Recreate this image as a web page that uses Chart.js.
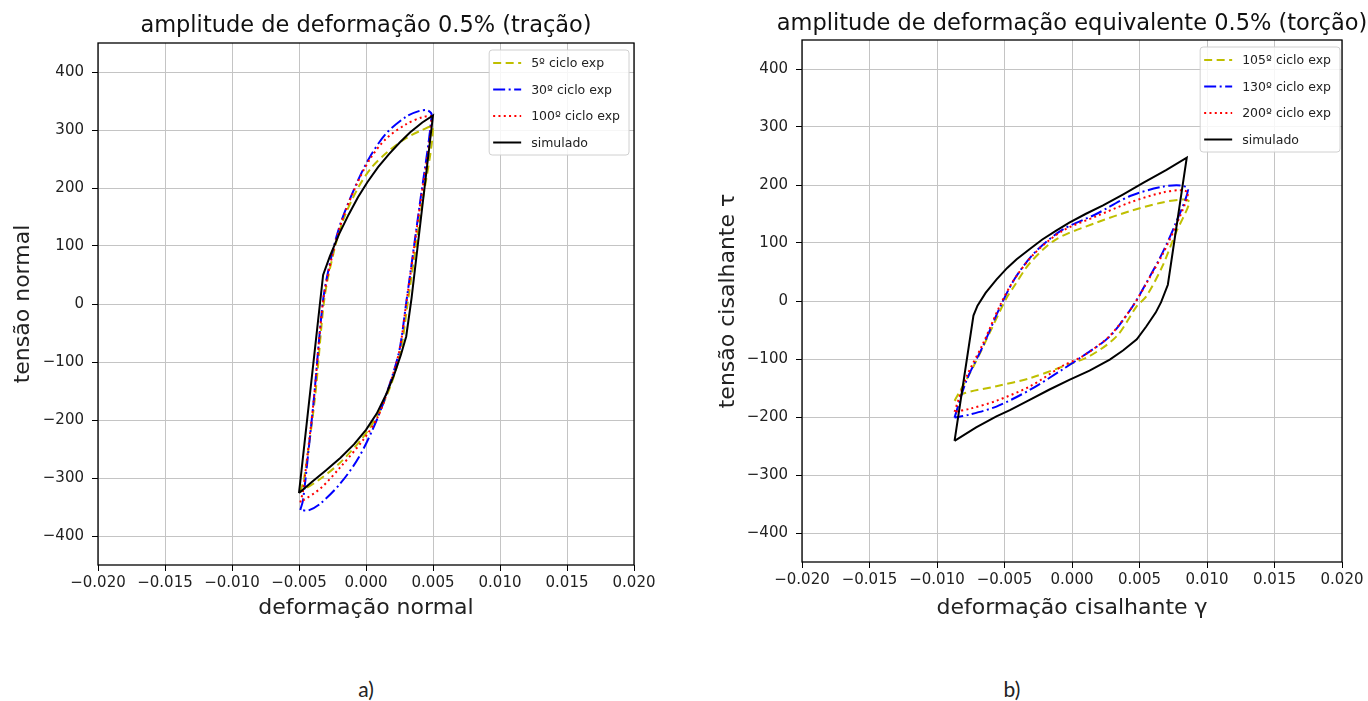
<!DOCTYPE html>
<html>
<head>
<meta charset="utf-8">
<script src="https://cdn.jsdelivr.net/npm/chart.js@4/dist/chart.umd.min.js"></script>
<style>
  body { margin: 0; background: #fff; width: 1368px; height: 701px; position: relative; overflow: hidden; }
  .painel { position: absolute; top: 0; width: 684px; height: 640px; }
  .rotulo { position: absolute; top: 676px; font: 21px Lato, "Open Sans", sans-serif; color: #222; transform: translateX(-50%); }
</style>
</head>
<body>
<div class="painel" style="left:0"><canvas id="grafTracao"></canvas></div>
<div class="painel" style="left:684px"><canvas id="grafTorcao"></canvas></div>
<div class="rotulo" style="left:366px">a)</div>
<div class="rotulo" style="left:1012px">b)</div>
<script>
// ticks dos eixos
const ticksX = [-0.020, -0.015, -0.010, -0.005, 0.000, 0.005, 0.010, 0.015, 0.020];
const ticksY = [-400, -300, -200, -100, 0, 100, 200, 300, 400];

// a) tracao - laços (ramo de carga + ramo de descarga)
const tracao5X = [-0.0049, -0.0046, -0.0038, -0.0031, -0.0024, -0.0017, -0.0006, 0.0004, 0.0016, 0.0030, 0.0042, 0.0050,
  0.0041, 0.0031, 0.0026, 0.0019, 0.0009, -0.0003, -0.0020, -0.0035, -0.0049];
const tracao5Y = [-324, -298, -160, 10, 90, 145, 200, 235, 262, 286, 300, 305,
  160, 0, -80, -137, -190, -232, -275, -303, -324];

const tracao30X = [-0.0049, -0.0047, -0.0043, -0.0039, -0.0032, -0.0026, -0.0019, -0.0007, 0.0003, 0.0015, 0.0030, 0.0040, 0.0046, 0.0049,
  0.0040, 0.0030, 0.0025, 0.0018, 0.0008, -0.0005, -0.0019, -0.0034, -0.0043, -0.0049];
const tracao30Y = [-355, -338, -255, -166, 7, 80, 139, 208, 254, 294, 323, 333, 334, 326,
  170, 2, -79, -136, -200, -263, -309, -344, -356, -355];

const tracao100X = [-0.0049, -0.0047, -0.0039, -0.0032, -0.0025, -0.0018, -0.0007, 0.0003, 0.0015, 0.0030, 0.0042, 0.0049,
  0.0040, 0.0030, 0.0025, 0.0018, 0.0009, -0.0002, -0.0019, -0.0034, -0.0049];
const tracao100Y = [-342, -322, -166, 5, 85, 143, 206, 250, 285, 310, 322, 322,
  165, 0, -80, -137, -194, -234, -281, -318, -342];

const tracaoSimX = [-0.0050, -0.0032, -0.0027, -0.0020, -0.0013, -0.0006, 0.0001, 0.0009, 0.0017, 0.0025, 0.0033, 0.0042, 0.0050,
  0.0034, 0.0030, 0.0026, 0.0021, 0.0015, 0.0008, 0.0000, -0.0009, -0.0019, -0.0030, -0.0040, -0.0050];
const tracaoSimY = [-326, 50, 82, 121, 154, 184, 210, 236, 258, 278, 296, 313, 325,
  10, -56, -88, -122, -156, -189, -217, -242, -265, -287, -306, -326];

// b) torcao
const torcao105X = [-0.0087, -0.0073, -0.0061, -0.0049, -0.0043, -0.0031, -0.0012, 0.0018, 0.0043, 0.0067, 0.0083, 0.0087,
  0.0077, 0.0067, 0.0055, 0.0048, 0.0033, 0.0013, -0.0007, -0.0031, -0.0056, -0.0081, -0.0087];
const torcao105Y = [-172, -113, -55, 3, 25, 66, 106, 135, 155, 170, 175, 170,
  118, 60, 8, -9, -61, -95, -113, -133, -147, -160, -172];

const torcao130X = [-0.0087, -0.0078, -0.0066, -0.0053, -0.0042, -0.0027, -0.0007, 0.0018, 0.0043, 0.0067, 0.0081, 0.0086,
  0.0077, 0.0067, 0.0055, 0.0045, 0.0028, 0.0008, -0.0007, -0.0031, -0.0056, -0.0076, -0.0087];
const torcao130Y = [-201, -136, -78, -9, 40, 85, 123, 150, 181, 197, 199, 192,
  135, 83, 31, -9, -61, -95, -118, -153, -182, -196, -201];

const torcao200X = [-0.0087, -0.0078, -0.0066, -0.0053, -0.0042, -0.0027, -0.0007, 0.0018, 0.0043, 0.0067, 0.0081, 0.0086,
  0.0077, 0.0067, 0.0055, 0.0045, 0.0028, 0.0008, -0.0007, -0.0031, -0.0056, -0.0076, -0.0087];
const torcao200Y = [-191, -130, -74, -6, 40, 84, 121, 146, 170, 187, 191, 186,
  130, 80, 30, -9, -60, -95, -112, -147, -172, -186, -191];

const torcaoSimX = [-0.0087, -0.0073, -0.0070, -0.0064, -0.0056, -0.0048, -0.0041, -0.0031, -0.0022, -0.0012, -0.0002, 0.0010, 0.0023, 0.0038, 0.0053, 0.0070, 0.0085,
  0.0071, 0.0066, 0.0062, 0.0055, 0.0048, 0.0038, 0.0028, 0.0013, -0.0002, -0.0017, -0.0031, -0.0046, -0.0056, -0.0071, -0.0087];
const torcaoSimY = [-241, -25, -8, 14, 37, 57, 72, 90, 106, 121, 135, 150, 165, 184, 204, 226, 247,
  28, -2, -20, -44, -66, -85, -101, -120, -136, -153, -170, -188, -199, -218, -241];

const legendaTracao = ['5º ciclo exp', '30º ciclo exp', '100º ciclo exp', 'simulado'];
const legendaTorcao = ['105º ciclo exp', '130º ciclo exp', '200º ciclo exp', 'simulado'];

const FONTE = '"DejaVu Sans", sans-serif';

function pontos(xs, ys) {
  return xs.map((x, i) => ({ x: x, y: ys[i] }));
}

function sinal(v, casas) {
  const txt = Math.abs(v).toFixed(casas);
  return v < 0 ? '\u2212' + txt : txt;
}

// moldura, titulo centrado e legenda dentro do grafico
const extras = {
  id: 'extras',
  afterDraw(chart, args, opts) {
    const { ctx, chartArea: a } = chart;
    ctx.save();
    ctx.strokeStyle = '#000';
    ctx.lineWidth = 1.3;
    ctx.strokeRect(a.left, a.top, a.right - a.left, a.bottom - a.top);

    ctx.fillStyle = '#111';
    ctx.font = '22.5px ' + FONTE;
    ctx.textAlign = 'center';
    ctx.textBaseline = 'alphabetic';
    ctx.fillText(opts.titulo, (a.left + a.right) / 2, opts.tituloY);

    ctx.font = '12.5px ' + FONTE;
    const dss = chart.data.datasets;
    const larg = Math.max(...dss.map(d => ctx.measureText(d.label).width)) + 51;
    const alt = 105;
    const x0 = a.right - opts.legDireita - larg;
    const y0 = a.top + opts.legTopo;
    ctx.beginPath();
    ctx.roundRect(x0, y0, larg, alt, 3);
    ctx.fillStyle = 'rgba(255,255,255,0.85)';
    ctx.fill();
    ctx.strokeStyle = '#d0d0d0';
    ctx.lineWidth = 1;
    ctx.stroke();

    ctx.textAlign = 'left';
    ctx.textBaseline = 'middle';
    dss.forEach((d, i) => {
      const y = y0 + 13 + i * 26.5;
      ctx.beginPath();
      ctx.setLineDash(d.borderDash || []);
      ctx.strokeStyle = d.borderColor;
      ctx.lineWidth = d.borderWidth;
      ctx.moveTo(x0 + 4, y);
      ctx.lineTo(x0 + 32, y);
      ctx.stroke();
      ctx.setLineDash([]);
      ctx.fillStyle = '#222';
      ctx.fillText(d.label, x0 + 42, y + 1);
    });
    ctx.restore();
  }
};

function conjunto(label, dados, cor, traco, ordem, tensao) {
  return {
    label: label,
    data: dados,
    showLine: true,
    pointRadius: 0,
    borderColor: cor,
    borderWidth: 2,
    borderDash: traco,
    tension: tensao,
    fill: false,
    order: ordem
  };
}

function criarGrafico(id, datasets, cfg) {
  new Chart(document.getElementById(id), {
    type: 'scatter',
    data: { datasets: datasets },
    plugins: [extras],
    options: {
      responsive: true,
      maintainAspectRatio: false,
      animation: false,
      layout: { padding: { top: cfg.topo, right: cfg.direita, left: 0, bottom: 0 } },
      plugins: {
        legend: { display: false },
        tooltip: { enabled: false },
        extras: { titulo: cfg.titulo, tituloY: cfg.tituloY, legDireita: cfg.legDireita, legTopo: cfg.legTopo }
      },
      scales: {
        x: {
          type: 'linear',
          min: -0.02,
          max: 0.02,
          afterBuildTicks: s => { s.ticks = ticksX.map(v => ({ value: v })); },
          afterFit: s => { s.height = cfg.altX; },
          ticks: { callback: v => sinal(v, 3), font: { family: FONTE, size: 15 }, color: '#222', padding: 3, maxRotation: 0, autoSkip: false },
          grid: { color: '#c4c4c4', lineWidth: 1, tickLength: 6, tickColor: '#000' },
          border: { display: false },
          title: { display: true, text: cfg.tituloX, font: { family: FONTE, size: 22 }, color: '#222', padding: { top: 0, bottom: 19 } }
        },
        y: {
          type: 'linear',
          min: -450,
          max: 450,
          afterBuildTicks: s => { s.ticks = ticksY.map(v => ({ value: v })); },
          afterFit: s => { s.width = cfg.largY; },
          ticks: { callback: v => sinal(v, 0), font: { family: FONTE, size: 15 }, color: '#222', padding: 8, autoSkip: false },
          grid: { color: '#c4c4c4', lineWidth: 1, tickLength: 6, tickColor: '#000' },
          border: { display: false },
          title: { display: true, text: cfg.tituloY2, font: { family: FONTE, size: 22 }, color: '#222', padding: { top: cfg.padTitY, bottom: 0 } }
        }
      }
    }
  });
}

criarGrafico('grafTracao', [
  conjunto(legendaTracao[0], pontos(tracao5X, tracao5Y), '#bfbf00', [8, 4.5], 4, 0.3),
  conjunto(legendaTracao[1], pontos(tracao30X, tracao30Y), '#0000ff', [12, 3.5, 2, 3.5], 3, 0.3),
  conjunto(legendaTracao[2], pontos(tracao100X, tracao100Y), '#ff0000', [2, 3.3], 2, 0.3),
  conjunto(legendaTracao[3], pontos(tracaoSimX, tracaoSimY), '#000000', [], 1, 0)
], {
  titulo: 'amplitude de deformação 0.5% (tração)', tituloY: 32,
  tituloX: 'deformação normal', tituloY2: 'tensão normal',
  topo: 43, direita: 50, altX: 75, largY: 98, padTitY: 10,
  legDireita: 5, legTopo: 7
});

criarGrafico('grafTorcao', [
  conjunto(legendaTorcao[0], pontos(torcao105X, torcao105Y), '#bfbf00', [8, 4.5], 4, 0.3),
  conjunto(legendaTorcao[1], pontos(torcao130X, torcao130Y), '#0000ff', [12, 3.5, 2, 3.5], 3, 0.3),
  conjunto(legendaTorcao[2], pontos(torcao200X, torcao200Y), '#ff0000', [2, 3.3], 2, 0.3),
  conjunto(legendaTorcao[3], pontos(torcaoSimX, torcaoSimY), '#000000', [], 1, 0)
], {
  titulo: 'amplitude de deformação equivalente 0.5% (torção)', tituloY: 30,
  tituloX: 'deformação cisalhante γ', tituloY2: 'tensão cisalhante τ',
  topo: 40, direita: 26, altX: 78, largY: 118, padTitY: 31,
  legDireita: 2, legTopo: 7
});
</script>
</body>
</html>
